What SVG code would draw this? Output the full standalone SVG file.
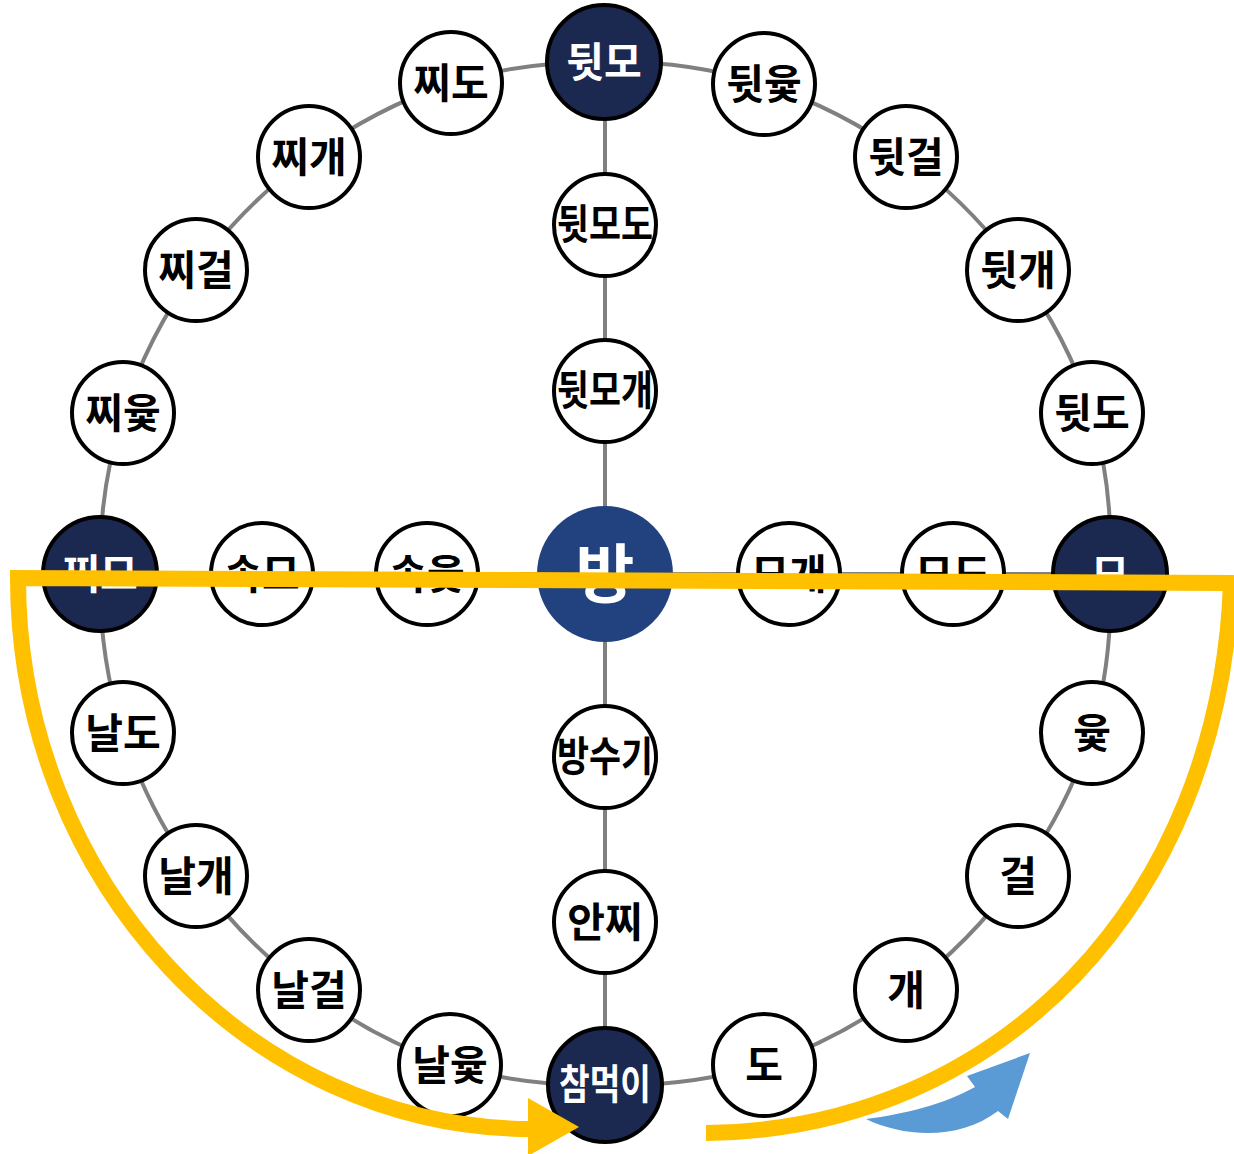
<svg xmlns="http://www.w3.org/2000/svg" width="1234" height="1154" viewBox="0 0 1234 1154">
  <style>
    .link{fill:none;stroke:#808080;stroke-width:4}
    .n circle{fill:#ffffff;stroke:#000000;stroke-width:4}
    .n text{font-family:"Noto Sans CJK KR","Noto Sans",sans-serif;font-weight:700;font-size:41px;fill:#000000;text-anchor:middle}
    .dark circle{fill:#1b2850}
    .dark text{fill:#ffffff}
    .hub circle{fill:#22427f;stroke:none}
    .hub text{fill:#ffffff;font-size:64px}
    .route{fill:none;stroke:#ffc000;stroke-width:16;stroke-linejoin:miter;stroke-miterlimit:10}
  </style>

  <!-- board lines: outer ring and the two crossing paths -->
  <g id="connectors">
    <path class="link" d="M604,62 A510,510 0 0 1 764,84 A510,510 0 0 1 906,157 A510,510 0 0 1 1018,270 A510,510 0 0 1 1092,413 A510,510 0 0 1 1110,574 A510,510 0 0 1 1092,733 A510,510 0 0 1 1018,876 A510,510 0 0 1 906,990 A510,510 0 0 1 764,1065 A510,510 0 0 1 605,1085 A510,510 0 0 1 450,1065 A510,510 0 0 1 309,990 A510,510 0 0 1 196,876 A510,510 0 0 1 123,733 A510,510 0 0 1 100,574 A510,510 0 0 1 123,413 A510,510 0 0 1 196,270 A510,510 0 0 1 309,157 A510,510 0 0 1 451,83 A510,510 0 0 1 604,62 Z"/>
    <line class="link" x1="605" y1="62" x2="605" y2="1085"/>
    <line class="link" x1="100" y1="574" x2="1110" y2="574"/>
  </g>

  <!-- outer ring -->
  <g id="n-dwitmo" class="n dark"><circle cx="604" cy="62" r="57"/><text x="604" y="77">뒷모</text></g>
  <g id="n-dwityut" class="n"><circle cx="764" cy="84" r="51"/><text x="764" y="99">뒷윷</text></g>
  <g id="n-dwitgeol" class="n"><circle cx="906" cy="157" r="51"/><text x="906" y="172">뒷걸</text></g>
  <g id="n-dwitgae" class="n"><circle cx="1018" cy="270" r="51"/><text x="1018" y="285">뒷개</text></g>
  <g id="n-dwitdo" class="n"><circle cx="1092" cy="413" r="51"/><text x="1092" y="428">뒷도</text></g>
  <g id="n-mo" class="n dark"><circle cx="1110" cy="574" r="57"/><text x="1110" y="589">모</text></g>
  <g id="n-yut" class="n"><circle cx="1092" cy="733" r="51"/><text x="1092" y="748">윷</text></g>
  <g id="n-geol" class="n"><circle cx="1018" cy="876" r="51"/><text x="1018" y="891">걸</text></g>
  <g id="n-gae" class="n"><circle cx="906" cy="990" r="51"/><text x="906" y="1005">개</text></g>
  <g id="n-do" class="n"><circle cx="764" cy="1065" r="51"/><text x="764" y="1080">도</text></g>
  <g id="n-chammeogi" class="n dark"><circle cx="605" cy="1085" r="57"/><text x="605" y="1099" textLength="92" lengthAdjust="spacingAndGlyphs">참먹이</text></g>
  <g id="n-nalyut" class="n"><circle cx="450" cy="1065" r="51"/><text x="450" y="1080">날윷</text></g>
  <g id="n-nalgeol" class="n"><circle cx="309" cy="990" r="51"/><text x="309" y="1005">날걸</text></g>
  <g id="n-nalgae" class="n"><circle cx="196" cy="876" r="51"/><text x="196" y="891">날개</text></g>
  <g id="n-naldo" class="n"><circle cx="123" cy="733" r="51"/><text x="123" y="748">날도</text></g>
  <g id="n-jjimo" class="n dark"><circle cx="100" cy="574" r="57"/><text x="100" y="589">찌모</text></g>
  <g id="n-jjiyut" class="n"><circle cx="123" cy="413" r="51"/><text x="123" y="428">찌윷</text></g>
  <g id="n-jjigeol" class="n"><circle cx="196" cy="270" r="51"/><text x="196" y="285">찌걸</text></g>
  <g id="n-jjigae" class="n"><circle cx="309" cy="157" r="51"/><text x="309" y="172">찌개</text></g>
  <g id="n-jjido" class="n"><circle cx="451" cy="83" r="51"/><text x="451" y="98">찌도</text></g>

  <!-- inner crossing -->
  <g id="n-dwitmodo" class="n"><circle cx="605" cy="225" r="51"/><text x="605" y="239" textLength="96" lengthAdjust="spacingAndGlyphs">뒷모도</text></g>
  <g id="n-dwitmogae" class="n"><circle cx="605" cy="391" r="51"/><text x="605" y="405" textLength="96" lengthAdjust="spacingAndGlyphs">뒷모개</text></g>
  <g id="n-bang" class="n hub"><circle cx="605" cy="574" r="68"/><text x="605" y="597">방</text></g>
  <g id="n-bangsugi" class="n"><circle cx="605" cy="757" r="51"/><text x="605" y="771" textLength="96" lengthAdjust="spacingAndGlyphs">방수기</text></g>
  <g id="n-anjji" class="n"><circle cx="605" cy="922" r="51"/><text x="605" y="937">안찌</text></g>
  <g id="n-sokmo" class="n"><circle cx="262" cy="574" r="51"/><text x="262" y="589">속모</text></g>
  <g id="n-sokyut" class="n"><circle cx="427" cy="574" r="51"/><text x="427" y="589">속윷</text></g>
  <g id="n-mogae" class="n"><circle cx="789" cy="574" r="51"/><text x="789" y="589">모개</text></g>
  <g id="n-modo" class="n"><circle cx="953" cy="574" r="51"/><text x="953" y="589">모도</text></g>

  <!-- small curved blue arrow -->
  <path id="turn-arrow" fill="#5b9bd5" d="M866,1119 C905,1138 960,1140 998,1111 L1008,1119 L1030,1053 L967,1076 L975,1087 C945,1104 905,1114 866,1119 Z"/>

  <!-- yellow route with arrowhead -->
  <g id="route">
    <path class="route" d="M706,1133 C1000,1130 1220,900 1231,583 L18,578 C18,882 250,1129 532,1129"/>
    <polygon fill="#ffc000" points="528,1098 579,1127 528,1156"/>
  </g>
</svg>
